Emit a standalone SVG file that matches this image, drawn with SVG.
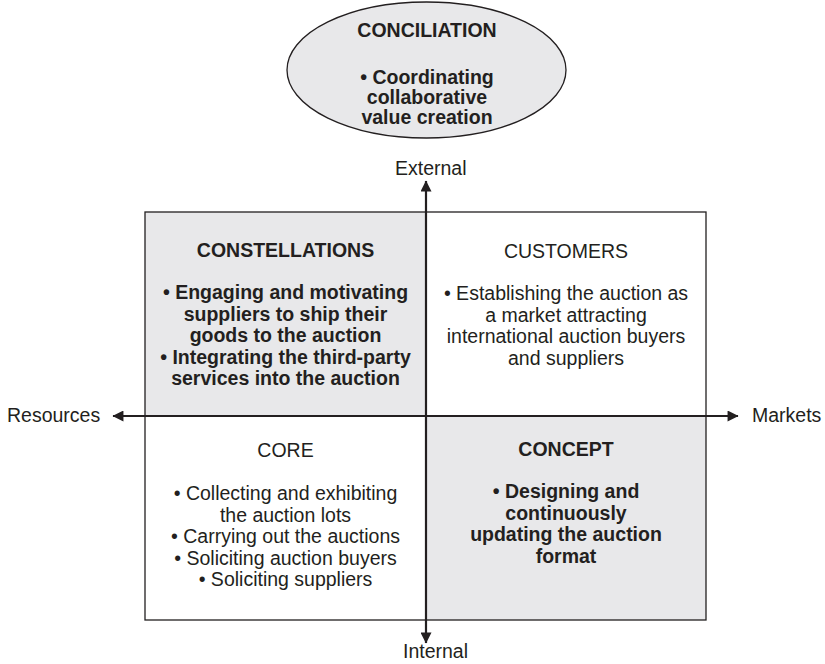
<svg xmlns="http://www.w3.org/2000/svg" width="825" height="664" viewBox="0 0 825 664">
<defs>
<style>
text{font-family:"Liberation Sans",Arial,sans-serif;font-size:19.5px;fill:#231f20;text-anchor:middle}
.b{font-weight:bold}
.s{text-anchor:start}
.q{stroke:#231f20;stroke-width:1.3}
.ax{stroke:#231f20;stroke-width:2.2;fill:none}
.g{fill:#e8e8ea}
.w{fill:#ffffff}
</style>
<marker id="ah" viewBox="0 0 10 10" refX="9" refY="5" markerWidth="6" markerHeight="6" orient="auto-start-reverse" markerUnits="userSpaceOnUse"><path d="M0,0 L10,5 L0,10 z" fill="#231f20"/></marker>
<marker id="ah2" viewBox="0 0 10 10" refX="9.5" refY="5" markerWidth="13" markerHeight="11" orient="auto-start-reverse" markerUnits="userSpaceOnUse"><path d="M0,0 L10,5 L0,10 z" fill="#231f20"/></marker>
</defs>
<rect width="825" height="664" fill="#ffffff"/>
<g id="conciliation">
<ellipse cx="426.5" cy="70" rx="139.5" ry="68" class="g q"/>
<text x="427" y="37" class="b">CONCILIATION</text>
<text x="427" y="84" class="b">• Coordinating</text>
<text x="427" y="104" class="b">collaborative</text>
<text x="427" y="124" class="b">value creation</text>
</g>
<g id="constellations">
<rect x="145" y="212" width="281" height="204" class="g q"/>
<text x="285.5" y="257" class="b">CONSTELLATIONS</text>
<text x="285.5" y="299" class="b">• Engaging and motivating</text>
<text x="285.5" y="320.5" class="b">suppliers to ship their</text>
<text x="285.5" y="342" class="b">goods to the auction</text>
<text x="285.5" y="363.5" class="b">• Integrating the third-party</text>
<text x="285.5" y="385" class="b">services into the auction</text>
</g>
<g id="customers">
<rect x="426" y="212" width="280" height="204" class="w q"/>
<text x="566" y="258">CUSTOMERS</text>
<text x="566" y="300">• Establishing the auction as</text>
<text x="566" y="321.5">a market attracting</text>
<text x="566" y="343">international auction buyers</text>
<text x="566" y="364.5">and suppliers</text>
</g>
<g id="core">
<rect x="145" y="416" width="281" height="204" class="w q"/>
<text x="285.5" y="457">CORE</text>
<text x="285.5" y="500">• Collecting and exhibiting</text>
<text x="285.5" y="521.5">the auction lots</text>
<text x="285.5" y="543">• Carrying out the auctions</text>
<text x="285.5" y="564.5">• Soliciting auction buyers</text>
<text x="285.5" y="586">• Soliciting suppliers</text>
</g>
<g id="concept">
<rect x="426" y="416" width="280" height="204" class="g q"/>
<text x="566" y="456" class="b">CONCEPT</text>
<text x="566" y="498" class="b">• Designing and</text>
<text x="566" y="519.5" class="b">continuously</text>
<text x="566" y="541" class="b">updating the auction</text>
<text x="566" y="562.5" class="b">format</text>
</g>
<g id="connectors">
<line x1="426" y1="643" x2="426" y2="181" class="ax" marker-start="url(#ah2)" marker-end="url(#ah2)"/>
<line x1="113" y1="416" x2="738" y2="416" class="ax" marker-start="url(#ah2)" marker-end="url(#ah2)"/>
</g>
<g id="labels">
<text x="395" y="175" class="s">External</text>
<text x="403" y="658" class="s">Internal</text>
<text x="7" y="422" class="s">Resources</text>
<text x="752" y="422" class="s">Markets</text>
</g>
</svg>
